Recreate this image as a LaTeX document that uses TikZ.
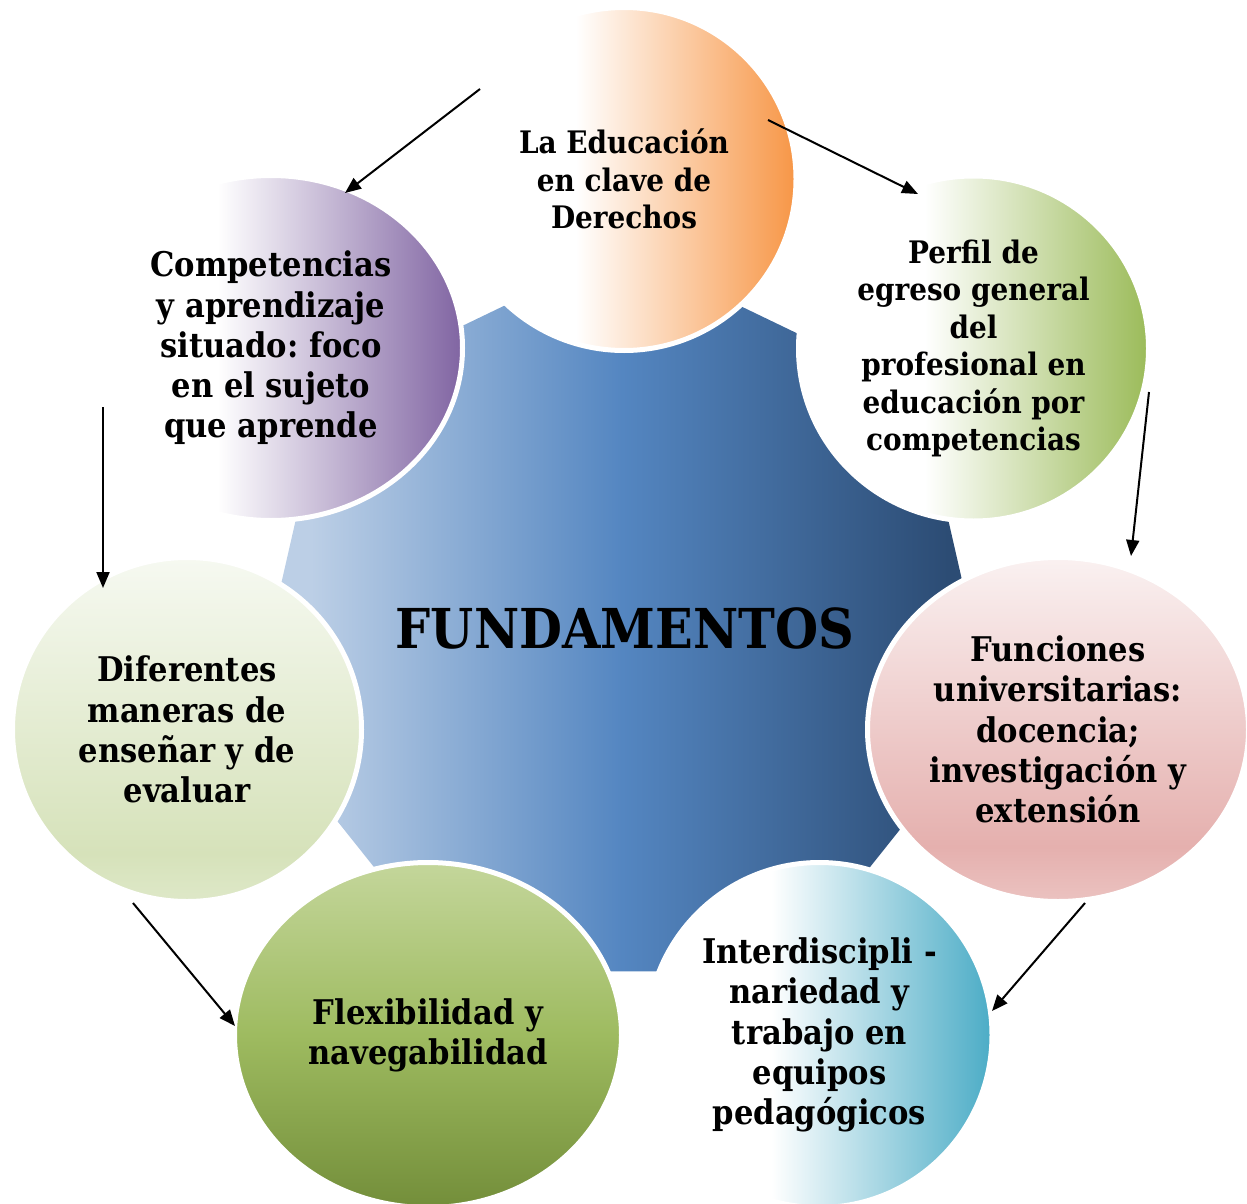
\documentclass[tikz,border=0pt]{standalone}
\usepackage{fontspec}
\setmainfont{DejaVu Serif}[FakeStretch=0.9]
\usetikzlibrary{shapes.geometric,arrows.meta,calc}
\frenchspacing

\definecolor{orC}{RGB}{247,150,70}
\definecolor{grC}{RGB}{155,187,89}
\definecolor{puC}{RGB}{128,100,162}
\definecolor{tqC}{RGB}{75,172,198}
\definecolor{gearL}{RGB}{188,207,230}
\definecolor{gearM}{RGB}{84,134,193}
\definecolor{gearR}{RGB}{44,76,116}
\definecolor{pkT}{RGB}{250,241,241}
\definecolor{pkB}{RGB}{229,176,174}
\definecolor{pkB2}{RGB}{235,194,192}
\definecolor{dfT}{RGB}{246,249,241}
\definecolor{dfB}{RGB}{214,226,186}
\definecolor{dfB2}{RGB}{222,232,200}
\definecolor{fxT}{RGB}{196,214,155}
\definecolor{fxM}{RGB}{158,187,96}
\definecolor{fxB}{RGB}{115,142,58}

\pgfdeclarehorizontalshading{shOr}{100bp}{color(0bp)=(white); color(43bp)=(white); color(75bp)=(orC); color(100bp)=(orC)}
\pgfdeclarehorizontalshading{shGr}{100bp}{color(0bp)=(white); color(43bp)=(white); color(75bp)=(grC); color(100bp)=(grC)}
\pgfdeclarehorizontalshading{shPu}{100bp}{color(0bp)=(white); color(43bp)=(white); color(75bp)=(puC); color(100bp)=(puC)}
\pgfdeclarehorizontalshading{shTq}{100bp}{color(0bp)=(white); color(43bp)=(white); color(75bp)=(tqC); color(100bp)=(tqC)}
\pgfdeclarehorizontalshading{shGear}{100bp}{color(0bp)=(gearL); color(29bp)=(gearL); color(50bp)=(gearM); color(72bp)=(gearR); color(100bp)=(gearR)}
\pgfdeclareverticalshading{shPk}{100bp}{color(0bp)=(pkB2); color(25bp)=(pkB2); color(33bp)=(pkB); color(75bp)=(pkT); color(100bp)=(pkT)}
\pgfdeclareverticalshading{shDf}{100bp}{color(0bp)=(dfB2); color(25bp)=(dfB2); color(32bp)=(dfB); color(75bp)=(dfT); color(100bp)=(dfT)}
\pgfdeclareverticalshading{shFx}{100bp}{color(0bp)=(fxB); color(25bp)=(fxB); color(50bp)=(fxM); color(75bp)=(fxT); color(100bp)=(fxT)}

\tikzset{
  bub/.style={ellipse, draw=white, line width=5pt, inner sep=0pt, align=center,
    font=\bfseries\fontsize{34}{40.3}\selectfont},
  smalltxt/.style={font=\bfseries\fontsize{31}{37.4}\selectfont},
  arr/.style={line width=2pt, -{Triangle[length=16pt,width=13pt]}},
}

\begin{document}
\begin{tikzpicture}[x=1pt,y=-1pt]
\useasboundingbox (0,0) rectangle (1247,1204);

% central gear
\begin{scope}[shift={(622,629)}]
\path[shading=shGear] (-90:380) -- (-38.571:380) -- (12.857:380) -- (64.286:380)
  -- (115.714:380) -- (167.143:380) -- (218.571:380) -- cycle;
\end{scope}
\node[font=\bfseries\fontsize{55}{60}\selectfont] (fund) at (625,628) {FUNDAMENTOS};

% circles
\node[bub, smalltxt, shading=shOr, minimum width=344pt, minimum height=343pt] (edu) at (624,179)
  {La Educación\\en clave de\\Derechos};
\node[bub, smalltxt, shading=shGr, minimum width=350pt, minimum height=345pt] (perfil) at (973.5,348.5)
  {Perfil de\\egreso general\\del\\profesional en\\educación por\\competencias};
\node[bub, shading=shPk, minimum width=381pt, minimum height=344pt] (fun) at (1058,729.5)
  {Funciones\\universitarias:\\docencia;\\investigación y\\extensión};
\node[bub, shading=shTq, minimum width=345pt, minimum height=345pt] (inter) at (819.5,1035)
  {Interdiscipli -\\nariedad y\\trabajo en\\equipos\\pedagógicos};
\node[bub, shading=shFx, minimum width=387pt, minimum height=345pt] (flex) at (428,1035)
  {Flexibilidad y\\navegabilidad};
\node[bub, shading=shDf, minimum width=349pt, minimum height=344pt] (dif) at (187,729.5)
  {Diferentes\\maneras de\\enseñar y de\\evaluar};
\node[bub, shading=shPu, minimum width=383pt, minimum height=345pt] (comp) at (271,348)
  {Competencias\\y aprendizaje\\situado: foco\\en el sujeto\\que aprende};

% arrows
\draw[arr] ($(edu.center)+(-144,-90)$) -- ($(comp.center)+(74,-155)$);
\draw[arr] ($(edu.center)+(144,-59)$) -- ($(perfil.center)+(-55.5,-154.5)$);
\draw[arr] ($(perfil.center)+(175.5,43.5)$) -- ($(fun.center)+(73,-173.5)$);
\draw[arr] ($(fun.center)+(27,173.5)$) -- ($(inter.center)+(172.5,-24)$);
\draw[arr] ($(dif.center)+(-54,173.5)$) -- ($(flex.center)+(-193,-9)$);
\draw[arr] ($(comp.center)+(-168,59)$) -- ($(dif.center)+(-84,-141.5)$);
\end{tikzpicture}
\end{document}
